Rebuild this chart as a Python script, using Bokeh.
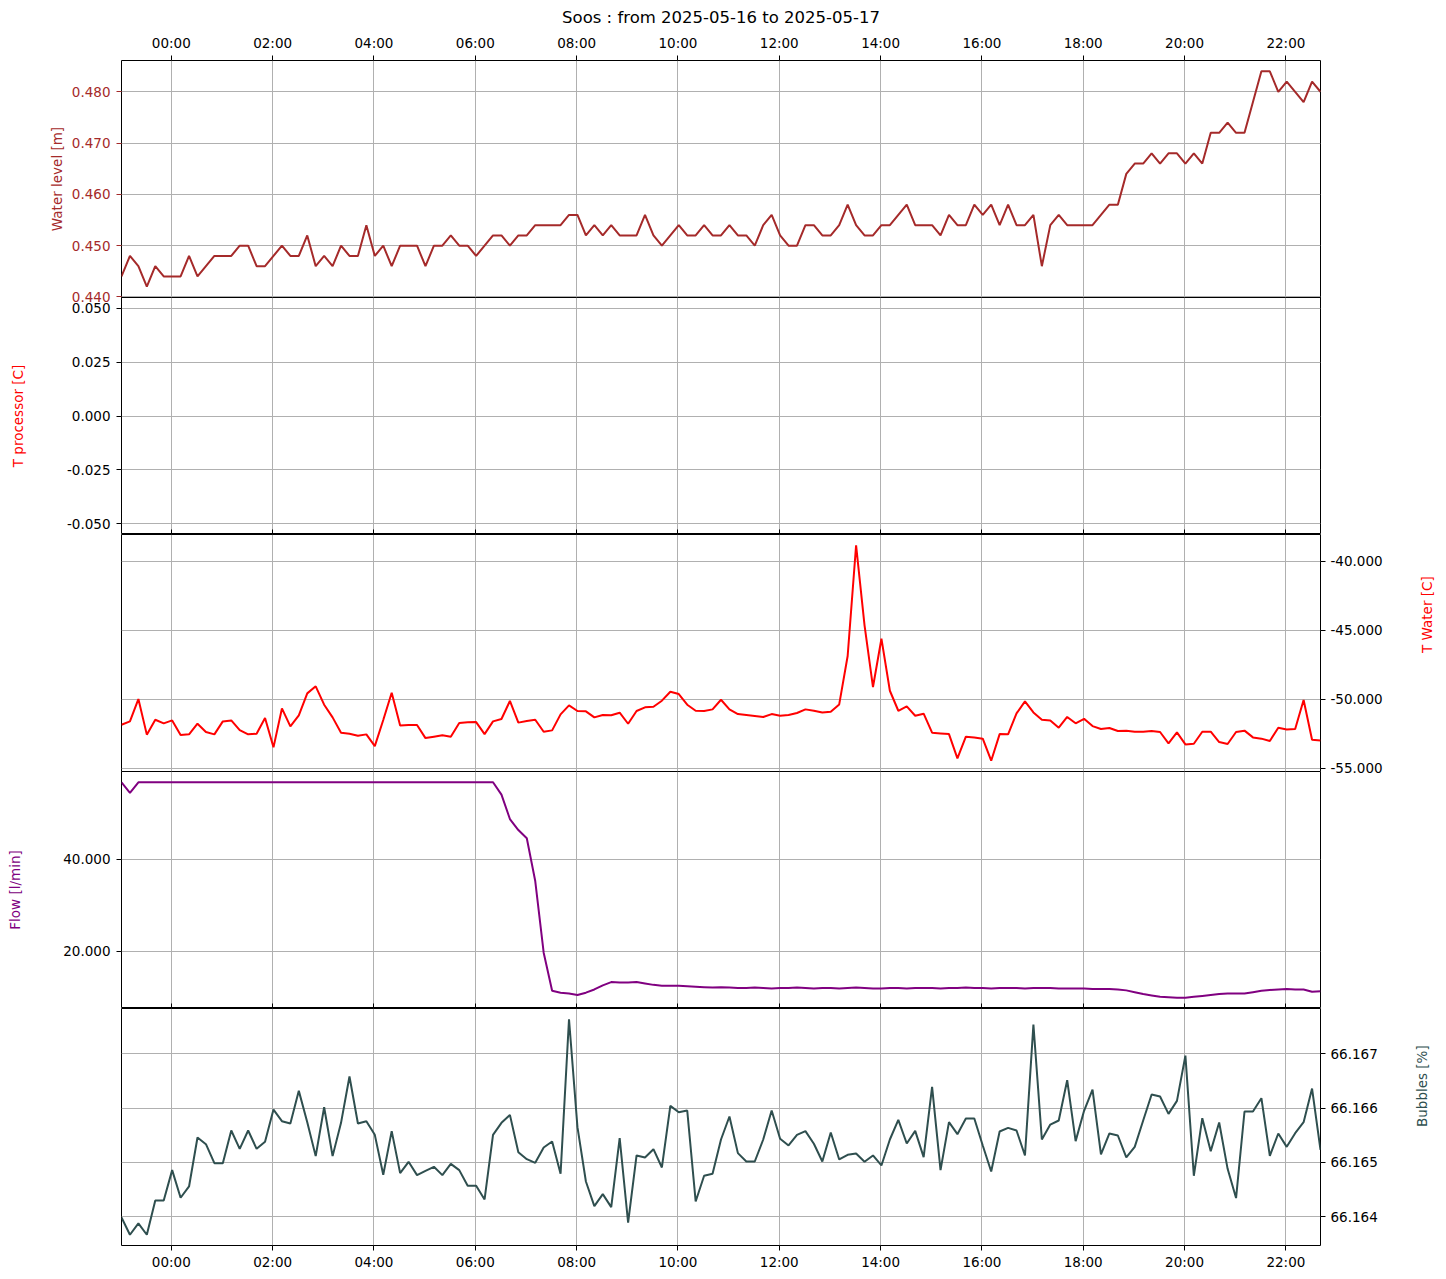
import math
import pandas as pd
from bokeh.plotting import figure
from bokeh.layouts import column
from bokeh.models import (Range1d, FixedTicker, NumeralTickFormatter, DatetimeTickFormatter,
                          LinearAxis, DatetimeAxis)
from bokeh.embed import file_html
from bokeh.resources import INLINE

# ---------------- data ----------------
TITLE = "Soos : from 2025-05-16 to 2025-05-17"
times = pd.date_range("2025-05-15 23:01", periods=143, freq="10min")
hour_ticks = pd.date_range("2025-05-16 00:00", "2025-05-16 22:00", freq="2h")

water_level = [
    0.444, 0.448, 0.446, 0.442, 0.446, 0.444, 0.444, 0.444, 0.448, 0.444,
    0.446, 0.448, 0.448, 0.448, 0.450, 0.450, 0.446, 0.446, 0.448, 0.450,
    0.448, 0.448, 0.452, 0.446, 0.448, 0.446, 0.450, 0.448, 0.448, 0.454,
    0.448, 0.450, 0.446, 0.450, 0.450, 0.450, 0.446, 0.450, 0.450, 0.452,
    0.450, 0.450, 0.448, 0.450, 0.452, 0.452, 0.450, 0.452,
    0.452, 0.454, 0.454, 0.454, 0.454, 0.456, 0.456, 0.452, 0.454, 0.452,
    0.454, 0.452, 0.452, 0.452, 0.456, 0.452, 0.450, 0.452, 0.454, 0.452,
    0.452, 0.454, 0.452, 0.452, 0.454, 0.452, 0.452, 0.450, 0.454, 0.456,
    0.452, 0.450, 0.450, 0.454, 0.454, 0.452, 0.452, 0.454, 0.458, 0.454,
    0.452, 0.452, 0.454, 0.454, 0.456, 0.458, 0.454, 0.454,
    0.454, 0.452, 0.456, 0.454, 0.454, 0.458, 0.456, 0.458, 0.454, 0.458,
    0.454, 0.454, 0.456, 0.446, 0.454, 0.456, 0.454, 0.454, 0.454, 0.454,
    0.456, 0.458, 0.458, 0.464, 0.466, 0.466, 0.468, 0.466, 0.468, 0.468,
    0.466, 0.468, 0.466, 0.472, 0.472, 0.474, 0.472, 0.472, 0.478, 0.484,
    0.484, 0.480, 0.482, 0.480, 0.478, 0.482, 0.480,
]

t_processor = []  # no values recorded

t_water = [
    -51.86, -51.62, -50.00, -52.58, -51.50, -51.76, -51.55, -52.61, -52.56, -51.79,
    -52.39, -52.56, -51.62, -51.55, -52.25, -52.56, -52.51, -51.38, -53.50, -50.68,
    -51.98, -51.18, -49.59, -49.08, -50.41, -51.33, -52.44, -52.51, -52.66, -52.56,
    -53.41, -51.52, -49.54, -51.91, -51.88, -51.88, -52.83, -52.73, -52.63, -52.73,
    -51.74, -51.69, -51.67, -52.54, -51.62, -51.45, -50.14, -51.71,
    -51.59, -51.50, -52.37, -52.27, -51.11, -50.46, -50.87, -50.89, -51.33, -51.16,
    -51.18, -50.99, -51.79, -50.87, -50.60, -50.56, -50.12, -49.47, -49.64, -50.41,
    -50.85, -50.87, -50.75, -50.05, -50.75, -51.09, -51.16, -51.23, -51.30, -51.09,
    -51.21, -51.16, -51.01, -50.75, -50.85, -50.97, -50.92, -50.39, -46.88, -38.86,
    -44.66, -49.13, -45.63, -49.40, -50.85, -50.53, -51.21, -51.06,
    -52.44, -52.49, -52.54, -54.30, -52.73, -52.78, -52.87, -54.47, -52.54, -52.56,
    -51.04, -50.17, -50.97, -51.50, -51.55, -52.08, -51.30, -51.76, -51.43, -51.96,
    -52.17, -52.10, -52.32, -52.29, -52.37, -52.37, -52.32, -52.39, -53.21, -52.42,
    -53.29, -53.24, -52.37, -52.37, -53.12, -53.26, -52.39, -52.29, -52.78, -52.87,
    -53.04, -52.08, -52.20, -52.17, -50.07, -52.95, -53.00,
]

flow = [
    56.8, 54.5,
    56.8, 56.8, 56.8, 56.8, 56.8, 56.8, 56.8, 56.8, 56.8, 56.8,
    56.8, 56.8, 56.8, 56.8, 56.8, 56.8, 56.8, 56.8, 56.8, 56.8,
    56.8, 56.8, 56.8, 56.8, 56.8, 56.8, 56.8, 56.8, 56.8, 56.8,
    56.8, 56.8, 56.8, 56.8, 56.8, 56.8, 56.8, 56.8, 56.8, 56.8,
    56.8, 56.8, 56.8,
    54.1, 48.8, 46.4, 44.6, 35.3, 19.7, 11.4, 11.0, 10.8, 10.5,
    11.0, 11.7, 12.6, 13.3, 13.2, 13.2, 13.3, 13.0, 12.7, 12.5,
    12.5, 12.5, 12.4, 12.3, 12.2, 12.1, 12.2,
    12.1, 12.0, 12.0, 12.1, 12.0, 11.9, 12.0, 12.0, 12.1, 12.0,
    11.9, 12.0, 12.0, 11.9, 12.0, 12.1, 12.0, 11.9, 11.9, 12.0,
    12.0, 11.9, 12.0, 12.0, 12.0, 11.9, 12.0, 12.0, 12.1, 12.0,
    12.0, 11.9, 12.0, 12.0, 12.0, 11.9, 12.0, 12.0, 12.0, 11.9,
    11.9, 11.9, 11.9, 11.8, 11.8, 11.8, 11.7,
    11.5, 11.1, 10.7, 10.4, 10.1, 10.0, 9.9, 9.9, 10.1, 10.3,
    10.5, 10.7, 10.8, 10.8, 10.8, 11.1, 11.4, 11.6, 11.7, 11.8,
    11.7, 11.7, 11.2, 11.3,
]

bubbles = [
    66.163988, 66.163669, 66.163877, 66.163669, 66.164301, 66.164301, 66.164859, 66.164350, 66.164558, 66.165460,
    66.165337, 66.164988, 66.164988, 66.165589, 66.165252, 66.165589, 66.165252, 66.165380, 66.165975, 66.165761,
    66.165718, 66.166319, 66.165742, 66.165117, 66.166018, 66.165117, 66.165730, 66.166583, 66.165718, 66.165761,
    66.165509, 66.164773, 66.165577, 66.164804, 66.165012, 66.164767, 66.164847, 66.164920, 66.164767, 66.164975,
    66.164859, 66.164571, 66.164571, 66.164319, 66.165509, 66.165730, 66.165877, 66.165190,
    66.165061, 66.164994, 66.165276, 66.165387, 66.164791, 66.167638, 66.165650, 66.164650, 66.164196, 66.164417,
    66.164178, 66.165448, 66.163890, 66.165129, 66.165092, 66.165245, 66.164908, 66.166043, 66.165926, 66.165957,
    66.164282, 66.164755, 66.164791, 66.165423, 66.165847, 66.165172, 66.165018, 66.165018, 66.165423, 66.165957,
    66.165436, 66.165313, 66.165509, 66.165577, 66.165344, 66.165018, 66.165552, 66.165055, 66.165141, 66.165166,
    66.165012, 66.165129, 66.164945, 66.165423, 66.165785, 66.165350, 66.165583, 66.165098,
    66.166393, 66.164859, 66.165742, 66.165521, 66.165810, 66.165810, 66.165313, 66.164834, 66.165571, 66.165638,
    66.165589, 66.165129, 66.167540, 66.165423, 66.165699, 66.165773, 66.166515, 66.165393, 66.165951, 66.166344,
    66.165147, 66.165534, 66.165497, 66.165092, 66.165288, 66.165773, 66.166252, 66.166215, 66.165896, 66.166135,
    66.166969, 66.164755, 66.165816, 66.165209, 66.165736, 66.164883, 66.164344, 66.165939, 66.165939, 66.166184,
    66.165123, 66.165534, 66.165288, 66.165540, 66.165742, 66.166362, 66.165233,
]

wl_ticks = [0.440, 0.450, 0.460, 0.470, 0.480]
tp_ticks = [-0.050, -0.025, 0.000, 0.025, 0.050]
tw_ticks = [-55.0, -50.0, -45.0, -40.0]
fl_ticks = [20.0, 40.0]
bu_ticks = [66.164, 66.165, 66.166, 66.167]

# ---------------- styling ----------------
FONT = "DejaVu Sans"
FS = "13.5px"
GRID = "#b0b0b0"
FRAME_W, FRAME_H = 1199, 237
BORDER_L, BORDER_R = 121, 123
OVERLAP = 8  # room at a panel edge for tick labels / tick marks that cross into the neighbour

t_ms = (times.asi8 // 10**6).tolist()
hour_ms = (hour_ticks.asi8 // 10**6).tolist()
xr = Range1d(start=t_ms[0], end=t_ms[-1])


def padded(vals, lo=None, hi=None):
    if lo is None:
        lo, hi = min(vals), max(vals)
    pad = 0.05 * (hi - lo)
    return Range1d(start=lo - pad, end=hi + pad)


def base_fig(yr, yticks, top=0, bottom=0, pull_up=False, clear_frame=False):
    kw = {}
    if pull_up:
        kw["styles"] = {"margin-top": f"-{OVERLAP}px"}
    p = figure(frame_width=FRAME_W, frame_height=FRAME_H, x_range=xr, y_range=yr,
               x_axis_location=None, y_axis_location=None, toolbar_location=None,
               output_backend="svg", min_border_left=BORDER_L, min_border_right=BORDER_R,
               min_border_top=top, min_border_bottom=bottom, **kw)
    p.outline_line_color = "black"
    p.outline_line_alpha = 1.0
    p.outline_line_width = 1
    p.background_fill_color = "white"
    p.border_fill_color = "white"
    if pull_up:
        p.border_fill_alpha = 0.0
    if clear_frame:
        p.background_fill_alpha = 0.0
    p.xgrid.ticker = FixedTicker(ticks=hour_ms)
    p.ygrid.ticker = FixedTicker(ticks=yticks)
    for g in (p.xgrid, p.ygrid):
        g.grid_line_color = GRID
        g.grid_line_width = 1
        g.grid_line_alpha = 1.0
    return p


def style_axis(ax, label="", label_color="black", tick_color="black", standoff=8, lab_off=6):
    ax.axis_label = label
    ax.axis_label_text_color = label_color
    ax.axis_label_text_font = FONT
    ax.axis_label_text_font_size = FS
    ax.axis_label_text_font_style = "normal"
    ax.axis_label_standoff = standoff
    ax.major_label_text_color = tick_color
    ax.major_label_text_font = FONT
    ax.major_label_text_font_size = FS
    ax.major_tick_line_color = tick_color
    ax.major_tick_out = 5
    ax.major_tick_in = 0
    ax.minor_tick_line_color = None
    ax.axis_line_color = None
    ax.major_label_standoff = lab_off


def y_axis(ticks, right=False, **kw):
    ax = LinearAxis(ticker=FixedTicker(ticks=ticks), formatter=NumeralTickFormatter(format="0.000"))
    style_axis(ax, **kw)
    if right:
        try:
            ax.axis_label_orientation = math.pi / 2
        except Exception:
            pass
    return ax


def time_axis(lab_off=5):
    fmt = DatetimeTickFormatter(hours="%H:%M", hourmin="%H:%M", minutes="%H:%M",
                                minsec="%H:%M", days="%H:%M", months="%H:%M", years="%H:%M")
    ax = DatetimeAxis(ticker=FixedTicker(ticks=hour_ms), formatter=fmt)
    style_axis(ax, lab_off=lab_off)
    return ax


def tick_only_axis():
    """Shared x axis of an inner panel: tick marks, no labels."""
    ax = LinearAxis(ticker=FixedTicker(ticks=hour_ms))
    style_axis(ax, lab_off=0)
    ax.major_label_text_font_size = "0px"
    ax.major_label_text_alpha = 0.0
    return ax


# Panel 1 - water level
p1 = base_fig(padded(water_level), wl_ticks, top=52, bottom=OVERLAP)
p1.line(t_ms, water_level, line_color="brown", line_width=2)
p1.add_layout(y_axis(wl_ticks, label="Water level [m]", label_color="brown",
                     tick_color="brown", standoff=4), "left")
p1.add_layout(time_axis(), "above")
p1.add_layout(tick_only_axis(), "below")
p1.title.text = TITLE
p1.title.align = "center"
p1.title.text_color = "black"
p1.title.text_font = FONT
p1.title.text_font_size = "16.5px"
p1.title.text_font_style = "normal"

# Panel 2 - T processor (empty)
p2 = base_fig(Range1d(start=-0.055, end=0.055), tp_ticks, pull_up=True, clear_frame=True)
p2.line(t_ms[:len(t_processor)], t_processor, line_color="red", line_width=2)
p2.add_layout(y_axis(tp_ticks, label="T processor [C]", label_color="red", standoff=38), "left")

# Panel 3 - T water
p3 = base_fig(padded(t_water), tw_ticks, top=OVERLAP, bottom=OVERLAP, pull_up=True)
p3.line(t_ms, t_water, line_color="red", line_width=2)
p3.add_layout(y_axis(tw_ticks, right=True, label="T Water [C]", label_color="red",
                     standoff=41, lab_off=5), "right")
p3.add_layout(tick_only_axis(), "above")

# Panel 4 - flow
p4 = base_fig(padded(flow), fl_ticks, pull_up=True)
p4.line(t_ms, flow, line_color="purple", line_width=2)
p4.add_layout(y_axis(fl_ticks, label="Flow [l/min]", label_color="purple", standoff=37), "left")

# Panel 5 - bubbles
p5 = base_fig(padded(bubbles), bu_ticks, top=OVERLAP, bottom=28, pull_up=True)
p5.line(t_ms, bubbles, line_color="darkslategray", line_width=2)
p5.add_layout(y_axis(bu_ticks, right=True, label="Bubbles [%]", label_color="darkslategray",
                     standoff=41, lab_off=5), "right")
p5.add_layout(tick_only_axis(), "above")
p5.add_layout(time_axis(lab_off=3), "below")

layout = column(p1, p2, p3, p4, p5, spacing=0)
open("out.html", "w").write(file_html(layout, INLINE, title="Soos"))
